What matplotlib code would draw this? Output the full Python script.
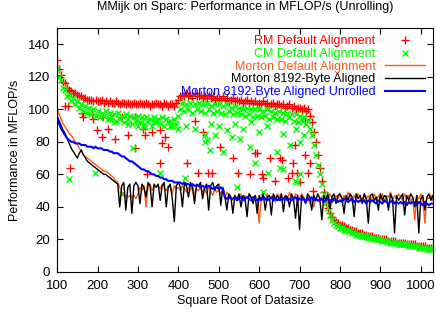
import matplotlib
matplotlib.use("Agg")
from matplotlib import pyplot as plt

plt.rcParams['font.family'] = ['Liberation Sans', 'DejaVu Sans']

# square root of datasize, one sample every 5
sizes = list(range(100, 1031, 5))

rm = [130, 125, 121, 117, 116, 113, 112, 111, 110, 110,
      109, 108, 108, 107, 107, 106, 106, 106, 105, 106,
      105, 105, 106, 104, 105, 104, 105, 104, 104, 105,
      104, 103, 104, 104, 103, 104, 103, 103, 104, 103,
      103, 104, 103, 103, 104, 103, 102, 103, 103, 104,
      103, 103, 102, 104, 103, 102, 103, 103, 102, 104,
      106, 108, 109, 108, 110, 108, 109, 107, 110, 108,
      108, 109, 107, 108, 107, 109, 107, 108, 106, 107,
      107, 106, 108, 106, 107, 105, 106, 107, 105, 106,
      105, 106, 104, 105, 106, 104, 105, 104, 105, 103,
      104, 103, 105, 103, 104, 102, 103, 104, 102, 103,
      103, 102, 103, 101, 102, 103, 101, 102, 100, 101,
      101, 100, 101, 99, 100, 96, 92, 86, 80, 72,
      64, 56, 49, 43, 39, 36, 34, 32, 31, 30,
      29, 29, 28, 27, 27, 26, 26, 25, 25, 24,
      24, 24, 23, 23, 22, 22, 22, 21, 21, 21,
      20, 20, 20, 20, 19, 19, 19, 19, 18, 18,
      18, 18, 18, 17, 17, 17, 17, 17, 16, 16,
      16, 16, 16, 15, 15, 15, 15]

cm = [125, 120, 118, 113, 112, 108, 109, 105, 107, 103,
      105, 101, 103, 99, 102, 98, 101, 97, 100, 96,
      99, 95, 98, 96, 99, 94, 98, 95, 97, 93,
      98, 94, 96, 92, 97, 94, 96, 91, 95, 93,
      96, 92, 95, 91, 95, 93, 94, 90, 95, 92,
      94, 91, 95, 90, 94, 92, 93, 90, 94, 91,
      96, 100, 104, 99, 103, 100, 104, 98, 103, 100,
      104, 99, 103, 98, 104, 100, 102, 98, 103, 99,
      103, 98, 102, 97, 103, 99, 101, 97, 102, 98,
      101, 97, 100, 96, 101, 97, 100, 95, 100, 96,
      100, 95, 99, 96, 100, 94, 99, 95, 98, 94,
      99, 94, 98, 93, 98, 95, 97, 93, 97, 92,
      96, 93, 95, 91, 93, 88, 84, 78, 72, 66,
      60, 54, 48, 43, 39, 35, 32, 30, 29, 28,
      27, 27, 26, 26, 25, 25, 24, 24, 23, 23,
      23, 22, 22, 22, 21, 21, 21, 20, 20, 20,
      20, 19, 19, 19, 19, 18, 18, 18, 18, 17,
      17, 17, 17, 17, 16, 16, 16, 16, 16, 15,
      15, 15, 15, 14, 14, 14, 14]

morton = [100, 97, 94, 91, 89, 87, 85, 84, 82, 80,
          78, 76, 74, 72, 71, 70, 69, 68, 67, 66,
          65, 64, 63, 62, 62, 61, 60, 59, 58, 56,
          55, 52, 49, 48, 47, 46, 47, 46, 47, 45,
          48, 52, 50, 53, 40, 52, 54, 50, 53, 52,
          53, 51, 54, 52, 50, 53, 52, 48, 53, 51,
          52, 50, 53, 51, 49, 52, 50, 53, 47, 51,
          50, 52, 49, 51, 48, 52, 50, 47, 51, 49,
          50, 48, 51, 45, 49, 47, 46, 44, 47, 45,
          46, 48, 44, 47, 45, 48, 46, 44, 47, 45,
          30, 45, 47, 44, 48, 46, 45, 47, 43, 48,
          46, 48, 44, 47, 45, 49, 46, 44, 48, 47,
          45, 48, 46, 44, 47, 42, 44, 40, 45, 43,
          46, 44, 47, 45, 43, 48, 46, 44, 47, 45,
          48, 45, 47, 44, 49, 46, 43, 47, 45, 48,
          46, 44, 48, 45, 47, 43, 46, 48, 44, 47,
          45, 48, 43, 47, 46, 49, 44, 47, 45, 48,
          46, 44, 48, 45, 47, 43, 46, 32, 47, 45,
          48, 44, 30, 46, 45, 47, 44]

aligned = [96, 93, 90, 87, 85, 82, 79, 76, 74, 72,
           70, 73, 75, 72, 70, 68, 67, 66, 65, 64,
           63, 62, 61, 60, 60, 59, 58, 57, 56, 55,
           54, 40, 53, 55, 38, 52, 54, 36, 53, 55,
           53, 42, 54, 52, 46, 55, 53, 40, 54, 52,
           54, 44, 53, 55, 40, 52, 54, 45, 31, 53,
           55, 52, 40, 54, 53, 46, 55, 52, 42, 54,
           53, 55, 45, 52, 54, 38, 53, 55, 50, 53,
           54, 41, 52, 47, 38, 48, 46, 36, 47, 44,
           48, 40, 47, 45, 34, 48, 46, 42, 47, 36,
           47, 44, 48, 38, 46, 47, 35, 48, 45, 47,
           44, 48, 37, 47, 46, 40, 48, 45, 33, 47,
           26, 47, 45, 42, 48, 46, 38, 47, 44, 48,
           45, 32, 47, 44, 48, 39, 46, 48, 42, 47,
           48, 45, 36, 47, 44, 48, 46, 34, 48, 45,
           47, 42, 48, 45, 30, 47, 48, 44, 46, 38,
           48, 44, 47, 46, 38, 48, 45, 24, 47, 44,
           46, 48, 35, 47, 44, 48, 46, 40, 47, 24,
           45, 47, 38, 46, 48, 44, 47]

unrolled = [95, 91, 88, 86, 84, 82, 81, 80, 80, 79,
            79, 79, 78, 78, 78, 77, 77, 77, 76, 77,
            76, 76, 76, 75, 75, 75, 74, 74, 73, 73,
            73, 72, 71, 71, 70, 69, 68, 68, 67, 66,
            65, 64, 63, 63, 62, 62, 61, 60, 60, 59,
            59, 58, 58, 57, 57, 56, 56, 56, 55, 55,
            55, 55, 54, 55, 54, 54, 53, 54, 53, 53,
            53, 52, 53, 52, 52, 53, 52, 51, 52, 52,
            51, 52, 51, 46, 45, 46, 45, 45, 46, 44,
            45, 46, 44, 45, 46, 45, 44, 46, 45, 44,
            45, 44, 46, 45, 44, 45, 46, 44, 45, 44,
            45, 44, 45, 46, 44, 45, 44, 45, 46, 44,
            45, 44, 45, 43, 45, 44, 46, 44, 45, 44,
            44, 45, 43, 44, 45, 44, 43, 45, 44, 43,
            44, 43, 45, 44, 43, 44, 45, 43, 44, 43,
            44, 43, 44, 42, 44, 43, 44, 43, 42, 44,
            43, 42, 44, 43, 42, 43, 44, 42, 43, 42,
            43, 42, 43, 41, 43, 42, 43, 42, 41, 43,
            42, 41, 43, 42, 41, 42, 42]

# slow runs that fall out of the main bands
rm_out_x = [120, 127, 132, 162, 165, 187, 189, 199, 211, 214, 226, 244, 261, 276,
            293, 293, 313, 318, 323, 335, 355, 355, 360, 367, 375, 422, 442, 449,
            461, 474, 484, 503, 536, 548, 578, 590, 595, 607, 610, 627, 640, 652,
            657, 672, 682, 684, 689, 694, 701, 714, 714, 721, 726, 734]
rm_out_y = [102, 102, 64, 98, 95, 97, 94, 87, 83, 95, 88, 82, 95, 84,
            95, 76, 88, 84, 60, 86, 87, 67, 79, 83, 77, 67, 93, 61,
            86, 61, 61, 77, 70, 61, 60, 73, 73, 60, 58, 70, 56, 70,
            69, 58, 61, 67, 78, 61, 55, 72, 94, 61, 67, 50]

cm_out_x = [130, 194, 231, 240, 261, 276, 288, 300, 318, 340, 355, 380, 400, 417,
            420, 440, 466, 466, 471, 479, 480, 491, 500, 511, 520, 533, 540, 545,
            553, 560, 578, 580, 590, 600, 610, 620, 622, 645, 652, 659, 660, 677,
            689, 690, 694, 700, 701, 710]
cm_out_y = [57, 61, 94, 92, 48, 91, 76, 90, 89, 92, 61, 90, 88, 58,
            90, 88, 80, 84, 81, 75, 91, 84, 90, 74, 87, 83, 91, 52,
            82, 88, 77, 92, 67, 86, 49, 90, 61, 74, 64, 63, 85, 78,
            56, 88, 55, 80, 60, 84]

fig = plt.figure(figsize=(4.36, 3.14), dpi=100)
ax = fig.add_axes([0.131, 0.134, 0.862, 0.777])

ax.plot(sizes + rm_out_x, rm + rm_out_y, '+', color='#ff0000', markersize=6,
        markeredgewidth=1.0, linestyle='none', label='RM Default Alignment')
ax.plot(sizes + cm_out_x, cm + cm_out_y, 'x', color='#00ff00', markersize=5,
        markeredgewidth=1.0, linestyle='none', label='CM Default Alignment')
ax.plot(sizes, morton, color='#ff5a14', linewidth=1.0, label='Morton Default Alignment')
ax.plot(sizes, aligned, color='black', linewidth=1.0, label='Morton 8192-Byte Aligned')
ax.plot(sizes, unrolled, color='#0000ff', linewidth=1.5,
        label='Morton 8192-Byte Aligned Unrolled')

ax.set_xlim(100, 1030)
ax.set_ylim(0, 150)
ax.set_xticks(range(100, 1001, 100))
ax.set_yticks(range(0, 141, 20))
ax.tick_params(direction='in', top=True, right=True, labelsize=9.5, length=4)
ax.tick_params(axis='x', pad=6)
ax.tick_params(axis='y', pad=5)
for s in ax.spines.values():
    s.set_linewidth(0.8)

ax.set_title('MMijk on Sparc: Performance in MFLOP/s (Unrolling)', fontsize=9, pad=13)
ax.set_xlabel('Square Root of Datasize', fontsize=9, labelpad=2)
ax.set_ylabel('Performance in MFLOP/s', fontsize=9, labelpad=5)

ax.legend(loc='upper right', frameon=False, markerfirst=False, fontsize=9,
          handlelength=3.2, handletextpad=0.8, labelspacing=0.05,
          borderaxespad=0.2, labelcolor=['#ff0000', '#00ff00', '#ff5a14', 'black', '#0000ff'])

plt.savefig('out.png')
